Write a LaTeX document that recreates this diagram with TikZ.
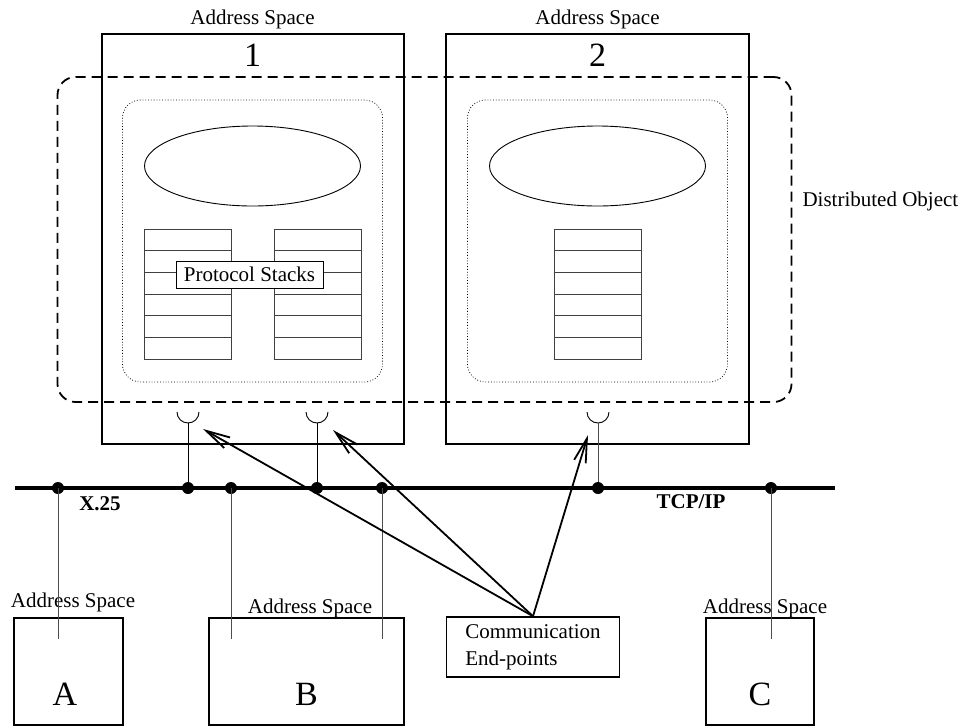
\documentclass[tikz,border=0pt]{standalone}
\usepackage{fontspec}
\setmainfont{Liberation Serif}
\usetikzlibrary{positioning, shapes.geometric, arrows.meta}

\begin{document}
\begin{tikzpicture}[
    x=1pt, y=-1pt,
    font=\fontsize{21}{27}\selectfont,
    space/.style={rectangle, draw, line width=2pt, inner sep=0pt},
    ident/.style={font=\fontsize{34}{40}\selectfont, inner sep=0pt},
    region/.style={rectangle, draw, rounded corners=18pt, inner sep=0pt},
    obj/.style={ellipse, draw, line width=0.9pt, inner sep=0pt, minimum width=216pt, minimum height=80pt},
    layer/.style={rectangle, draw=black!75, line width=0.9pt, inner sep=0pt, minimum width=87pt, minimum height=21.67pt},
    tag/.style={rectangle, draw, line width=1pt, fill=white, inner sep=0pt},
    net/.style={font=\fontsize{21}{27}\selectfont\bfseries},
    bus/.style={line width=3.8pt},
    tap/.style={circle, fill, inner sep=0pt, minimum size=12pt},
    drop/.style={line width=1pt, draw=black!70},
    cup/.style={line width=0.9pt},
    pointer/.style={-{Straight Barb[length=24pt, width=12pt]}, line width=1.8pt}
]
\useasboundingbox (0,0) rectangle (966,726);

% distributed object region
\node[region, dash pattern=on 10pt off 6pt, line width=1.8pt, minimum width=734pt, minimum height=325pt] (distobj) at (424.5,239.5) {};
\node[anchor=west] (distlabel) at (799,201) {Distributed Object};

% address spaces 1 and 2
\node[space, minimum width=302pt, minimum height=410pt] (space1) at (252.5,239) {};
\node[space, minimum width=303pt, minimum height=410pt] (space2) at (597.5,239) {};
\node (title1) at (252.5,19) {Address Space};
\node (title2) at (597.5,19) {Address Space};
\node[ident] (num1) at (252.5,55) {1};
\node[ident] (num2) at (597.5,55) {2};

\node[region, dotted, line width=0.8pt, minimum width=260pt, minimum height=282pt] (inner1) at (252.5,241) {};
\node[region, dotted, line width=0.8pt, minimum width=260pt, minimum height=282pt] (inner2) at (597.5,241) {};
\node[obj] (obj1) at (252.5,166) {};
\node[obj] (obj2) at (597.5,166) {};

% protocol stacks
\foreach \r in {0,...,5} {
  \node[layer] (stA-\r) at (187.5,239.8+\r*21.67) {};
  \node[layer] (stB-\r) at (317.5,239.8+\r*21.67) {};
  \node[layer] (stC-\r) at (597.5,239.8+\r*21.67) {};
}
\node[tag, minimum width=147pt, minimum height=27pt] (stacklabel) at (249.5,274.5) {Protocol Stacks};

% communication end-points
\coordinate (ep1) at (188,412);
\coordinate (ep2) at (317,412);
\coordinate (ep3) at (598,412);
\foreach \e in {ep1,ep2,ep3}
  \draw[cup] (\e) ++(-11,0) arc[start angle=180, end angle=360, radius=11pt];

% networks
\coordinate (busW) at (15,488);
\coordinate (busE) at (835,488);
\draw[bus] (busW) -- (busE);
\foreach \x/\n in {58/da, 188/db, 231/dc, 317/dd, 382/de, 598/df, 771/dg}
  \node[tap] (\n) at (\x,488) {};
\node[net] (x25) at (100,504) {X.25};
\node[net] (tcpip) at (691,502) {TCP/IP};

\draw[cup] (ep1) ++(0,11) -- (db);
\draw[cup] (ep2) ++(0,11) -- (dd);
\draw[drop] (ep3) ++(0,11) -- (df);

% address spaces A, B, C
\node[space, minimum width=109pt, minimum height=107pt] (spaceA) at (68.5,671.5) {};
\node[space, minimum width=195pt, minimum height=107pt] (spaceB) at (306.5,671.5) {};
\node[space, minimum width=108pt, minimum height=107pt] (spaceC) at (760,671.5) {};
\node (titleA) at (73,602) {Address Space};
\node (titleB) at (310,608) {Address Space};
\node (titleC) at (765,608) {Address Space};
\node[ident] (nameA) at (65,694) {A};
\node[ident] (nameB) at (306.5,694) {B};
\node[ident] (nameC) at (760,694) {C};

\coordinate (dropend) at (0,639);
\foreach \n in {da,dc,de,dg}
  \draw[drop] (\n.center) -- (\n |- dropend);

% end-point label and pointers
\node[rectangle, draw, line width=1.5pt, minimum width=173pt, minimum height=60pt, align=left] (commbox) at (533,647) {Communication\\End-points};
\coordinate (tip1) at (203,429);
\coordinate (tip2) at (333,430);
\coordinate (tip3) at (588,435);
\foreach \t in {tip1,tip2,tip3}
  \draw[pointer] (commbox.north) -- (\t);
\end{tikzpicture}
\end{document}
